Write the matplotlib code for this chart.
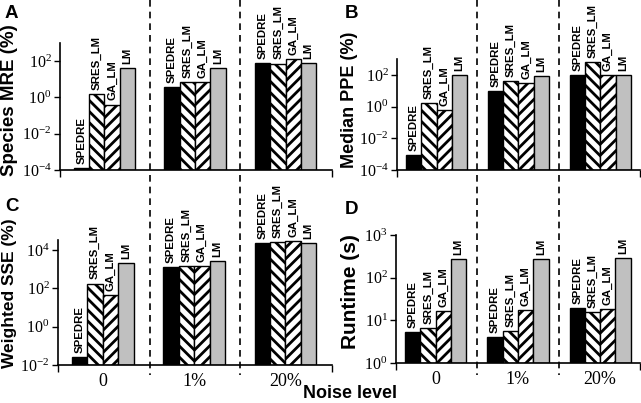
import matplotlib
matplotlib.use('Agg')
import matplotlib.pyplot as plt
import numpy as np
from matplotlib.transforms import blended_transform_factory
from matplotlib.ticker import FixedLocator, LogFormatterMathtext

# ---------------- data ----------------
methods = ['SPEDRE', 'SRES_LM', 'GA_LM', 'LM']
noise_levels = ['0', '1%', '20%']

# values per method, for noise levels 0, 1%, 20%
species_mre = [
    [1.3e-4, 3.6, 77],     # SPEDRE
    [1.5, 6.8, 74],        # SRES_LM
    [0.4, 6.8, 130],       # GA_LM
    [40, 40, 75],          # LM
]
median_ppe = [
    [9e-4, 9.6, 100],
    [1.6, 41, 670],
    [0.6, 31, 100],
    [100, 87, 100],
]
weighted_sse = [
    [0.026, 1260, 23000],
    [180, 1450, 26000],
    [43, 1450, 30000],
    [2080, 2600, 23000],
]
runtime = [
    [5.3, 4.1, 19.4],
    [6.6, 5.6, 15.6],
    [16.5, 17.5, 18.3],
    [275, 275, 290],
]

# ---------------- style ----------------
plt.rcParams['hatch.linewidth'] = 2.0
plt.rcParams['mathtext.fontset'] = 'custom'
plt.rcParams['mathtext.rm'] = 'Liberation Serif'
plt.rcParams['mathtext.it'] = 'Liberation Serif:italic'
plt.rcParams['mathtext.bf'] = 'Liberation Serif:bold'

faces = ['black', 'white', 'white', '#c0c0c0']
hatches = [None, '\\\\\\', '///', None]

W, H = 641, 403
fig = plt.figure(figsize=(W / 100, H / 100), dpi=100)


def px_axes(l, r, b, t):
    return fig.add_axes([l / W, 1 - b / H, (r - l) / W, (b - t) / H])


panels = [
    # letter, data, ylabel, (l, r, b, t), ylim, yticks, bar width, xlim, bottom?, letter pos, ylabel pos, ylabel size
    ('A', species_mre, 'Species MRE (%)', (60, 332, 170, 43), (1e-4, 1e3), [1e-4, 1e-2, 1e0, 1e2],
     0.169, (-0.49, 2.51), False, (5, 14), (10, 100), 13.5),
    ('B', median_ppe, 'Median PPE (%)', (397, 640, 170, 59), (1e-4, 1e3), [1e-4, 1e-2, 1e0, 1e2],
     0.186, (-0.483, 2.485), False, (345, 14), (350, 100), 13.0),
    ('C', weighted_sse, 'Weighted SSE (%)', (58, 332, 365, 240), (1e-2, 3.4e4), [1e-2, 1e0, 1e2, 1e4],
     0.169, (-0.49, 2.51), True, (5, 207), (10, 293), 12.5),
    ('D', runtime, 'Runtime (s)', (396, 640, 363, 235), (1e0, 1e3), [1e0, 1e1, 1e2, 1e3],
     0.186, (-0.483, 2.485), True, (345, 209), (350, 292), 15.0),
]

group_x = np.arange(len(noise_levels))

for (letter, data, ylabel, box, ylim, yticks, w, xlim, is_bottom, lpos, ylpos, ylsize) in panels:
    ax = px_axes(*box)
    ax.set_facecolor('none')
    ax.set_yscale('log')
    ax.set_ylim(*ylim)
    ax.set_xlim(*xlim)
    ylo = ylim[0]
    for i, m in enumerate(methods):
        vals = np.array(data[i], dtype=float)
        xs = group_x + (i - 1.5) * w
        ax.bar(xs, vals - ylo, w, bottom=ylo, color=faces[i], edgecolor='black',
               linewidth=1.0, hatch=hatches[i], zorder=2)
        for xv, v in zip(xs, vals):
            ax.annotate(m, xy=(xv, v), xytext=(0, 3), textcoords='offset points',
                        rotation=90, ha='center', va='bottom', fontsize=8.2,
                        fontweight='bold', family='Liberation Sans',
                        annotation_clip=False, zorder=3)
    for s in ['top', 'right']:
        ax.spines[s].set_visible(False)
    for s in ['left', 'bottom']:
        ax.spines[s].set_linewidth(1.2)
    ax.yaxis.set_major_locator(FixedLocator(yticks))
    ax.yaxis.set_major_formatter(LogFormatterMathtext())
    ax.yaxis.set_minor_locator(FixedLocator([]))
    ax.tick_params(axis='y', which='major', direction='out', length=4, width=1.0, pad=2,
                   labelsize=11.5)
    for lab in ax.get_yticklabels():
        lab.set_family('Liberation Serif')
    # x: group labels (no tick marks) and end ticks
    ax.set_xticks(group_x)
    if is_bottom:
        ax.set_xticklabels(noise_levels, family='Liberation Serif', fontsize=13)
    else:
        ax.set_xticklabels([])
    ax.tick_params(axis='x', which='major', length=0, pad=6)
    ax.set_xticks(list(xlim), minor=True)
    ax.tick_params(axis='x', which='minor', direction='out', length=5, width=1.0)

    # dashed separators spanning the column
    if not is_bottom:
        tr = blended_transform_factory(ax.transData, fig.transFigure)
        for xb in [0.5, 1.5]:
            ax.plot([xb, xb], [1.0, 1 - 375 / H], transform=tr, color='black',
                    lw=1.2, ls=(0, (4, 3)), clip_on=False, zorder=1)

    fig.text(lpos[0] / W, 1 - lpos[1] / H, letter, fontsize=13.5, fontweight='bold',
             family='Liberation Sans', ha='left', va='center')
    fig.text(ylpos[0] / W, 1 - ylpos[1] / H, ylabel, rotation=90, fontsize=ylsize,
             fontweight='bold', family='Liberation Sans', ha='center', va='center')

fig.text(350 / W, 1 - 393 / H, 'Noise level', fontsize=13, fontweight='bold',
         family='Liberation Sans', ha='center', va='center')

fig.savefig('out.png', dpi=100)
